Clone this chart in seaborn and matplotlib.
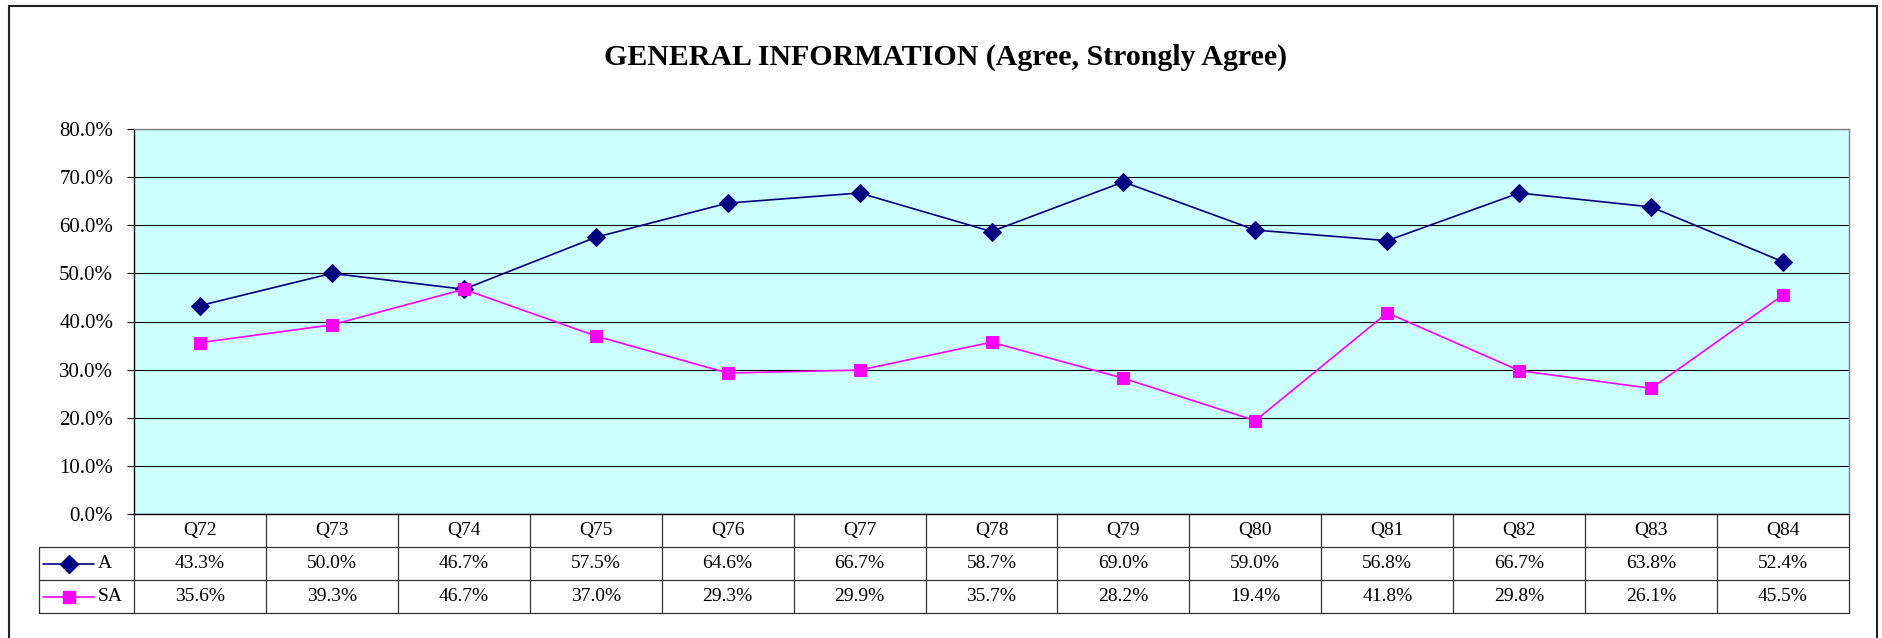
import numpy as np
import pandas as pd
import matplotlib
matplotlib.use("Agg")
import matplotlib.pyplot as plt
import seaborn as sns
from matplotlib.lines import Line2D
from matplotlib.patches import Rectangle
from matplotlib.transforms import blended_transform_factory

questions = ["Q72", "Q73", "Q74", "Q75", "Q76", "Q77", "Q78",
             "Q79", "Q80", "Q81", "Q82", "Q83", "Q84"]
agree = [43.3, 50.0, 46.7, 57.5, 64.6, 66.7, 58.7, 69.0, 59.0, 56.8, 66.7, 63.8, 52.4]
strongly_agree = [35.6, 39.3, 46.7, 37.0, 29.3, 29.9, 35.7, 28.2, 19.4, 41.8, 29.8, 26.1, 45.5]
series_names = ["A", "SA"]
title = "GENERAL INFORMATION (Agree, Strongly Agree)"

colors = {"A": "#000080", "SA": "#FF00FF"}
markers = {"A": "D", "SA": "s"}
msizes = {"A": 9.5, "SA": 9}

sns.set_theme(style="white")
plt.rcParams["font.family"] = ["Liberation Serif", "DejaVu Serif"]
plt.rcParams["text.color"] = "black"
plt.rcParams["ytick.color"] = "black"
plt.rcParams["ytick.labelcolor"] = "black"

W, H = 1883, 638
fig = plt.figure(figsize=(W / 100, H / 100), dpi=100)
ax_l, ax_r, ax_t, ax_b = 134, 1849, 129, 514
ax = fig.add_axes([ax_l / W, 1 - ax_b / H, (ax_r - ax_l) / W, (ax_b - ax_t) / H])
ax.set_facecolor("#CCFFFF")

df = pd.DataFrame({"question": questions, "A": agree, "SA": strongly_agree})
df["pos"] = np.arange(len(questions))

for name in series_names:
    sns.lineplot(data=df, x="pos", y=name, ax=ax, color=colors[name],
                 marker=markers[name], markersize=msizes[name],
                 markeredgecolor=colors[name], linewidth=1.2, zorder=3)

ax.set_xlim(-0.5, len(questions) - 0.5)
ax.set_ylim(0, 80)
ax.set_yticks(np.arange(0, 81, 10))
ax.set_yticklabels([f"{v:.1f}%" for v in np.arange(0, 81, 10)], fontsize=15,
                   color="black")
ax.set_xticks([])
ax.set_xlabel("")
ax.set_ylabel("")
ax.yaxis.grid(True, color="black", linewidth=0.8)
ax.set_axisbelow(True)
ax.tick_params(axis="y", direction="out", length=5, width=0.8, color="black",
               pad=10, left=True)
for side in ["left", "bottom"]:
    ax.spines[side].set_color("black")
    ax.spines[side].set_linewidth(1.0)
for side in ["top", "right"]:
    ax.spines[side].set_color("#808080")
    ax.spines[side].set_linewidth(1.0)

# data table under the plot
tr = blended_transform_factory(ax.transData, ax.transAxes)
row_h = 33 / (ax_b - ax_t)
col_px = (ax_r - ax_l) / len(questions)
leg_left = -0.5 - (ax_l - 39) / col_px
n = len(questions)
line_kw = dict(color="#333333", linewidth=0.9, transform=tr, clip_on=False)

for i in range(n + 1):
    ax.add_line(Line2D([i - 0.5, i - 0.5], [0, -3 * row_h], **line_kw))
ax.add_line(Line2D([leg_left, leg_left], [-row_h, -3 * row_h], **line_kw))
for r in range(1, 4):
    ax.add_line(Line2D([leg_left, n - 0.5], [-r * row_h, -r * row_h], **line_kw))

for i, q in enumerate(questions):
    ax.text(i, -0.5 * row_h, q, transform=tr, ha="center", va="center",
            fontsize=14, color="black")
for r, (name, vals) in enumerate(zip(series_names, [agree, strongly_agree]), start=1):
    yc = -(r + 0.5) * row_h
    for i, v in enumerate(vals):
        ax.text(i, yc, f"{v:.1f}%", transform=tr, ha="center", va="center",
                fontsize=14, color="black")
    # legend key
    x0 = leg_left + 4 / col_px
    x1 = leg_left + 55 / col_px
    ax.add_line(Line2D([x0, x1], [yc, yc], color=colors[name], linewidth=1.2,
                       transform=tr, clip_on=False))
    ax.add_line(Line2D([(x0 + x1) / 2], [yc], color=colors[name], marker=markers[name],
                       markersize=msizes[name] - 0.5, transform=tr, clip_on=False))
    ax.text(x1 + 4 / col_px, yc, name, transform=tr, ha="left", va="center",
            fontsize=14, color="black")

fig.text(946 / W, 1 - 57 / H, title, ha="center", va="center",
         fontsize=21.5, fontweight="bold", color="black")

# chart border
fig.patches.append(Rectangle((9 / W, -0.1), (1877 - 9) / W, 1.1 - 6 / H,
                             transform=fig.transFigure, fill=False,
                             edgecolor="#222222", linewidth=1.5))

fig.savefig("out.png", dpi=100)
